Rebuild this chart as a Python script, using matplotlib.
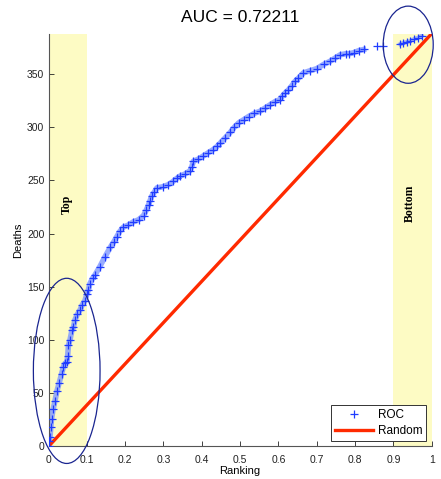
import matplotlib
matplotlib.use("Agg")
import matplotlib.pyplot as plt
from matplotlib.patches import Ellipse

# ROC curve points (ranking fraction, cumulative deaths)
roc_x = [0.000, 0.001, 0.004, 0.006, 0.008, 0.012, 0.017, 0.022, 0.028, 0.034,
         0.039, 0.043, 0.048, 0.050, 0.052, 0.056, 0.061, 0.065, 0.069, 0.075,
         0.082, 0.088, 0.095, 0.100, 0.104, 0.108, 0.115, 0.121, 0.134, 0.147,
         0.161, 0.170, 0.178, 0.186, 0.195, 0.208, 0.221, 0.235, 0.248, 0.255,
         0.261, 0.265, 0.269, 0.276, 0.283, 0.298, 0.313, 0.325, 0.335, 0.343,
         0.356, 0.369, 0.374, 0.378, 0.391, 0.404, 0.417, 0.430, 0.440, 0.448,
         0.461, 0.474, 0.485, 0.496, 0.509, 0.522, 0.537, 0.552, 0.565, 0.578,
         0.591, 0.604, 0.610, 0.617, 0.626, 0.635, 0.643, 0.652, 0.665, 0.682,
         0.700, 0.718, 0.735, 0.748, 0.761, 0.775, 0.785, 0.796, 0.810, 0.822,
         0.857, 0.874, 0.918, 0.925, 0.935, 0.944, 0.955, 0.965, 0.974]
roc_y = [0, 5, 9, 18, 26, 35, 43, 52, 60, 68,
         75, 78, 79, 85, 95, 100, 109, 112, 119, 124,
         128, 133, 137, 143, 147, 153, 158, 161, 169, 178,
         187, 192, 197, 202, 206, 208, 211, 213, 217, 222,
         227, 231, 235, 239, 243, 244, 246, 249, 252, 254,
         256, 259, 263, 268, 270, 273, 276, 279, 282, 285,
         290, 295, 300, 304, 307, 310, 313, 315, 318, 321,
         324, 326, 329, 332, 335, 339, 343, 346, 351, 353,
         355, 359, 362, 365, 368, 369, 369, 370, 372, 373,
         376, 376, 378, 379, 380, 381, 383, 384, 386]

total_deaths = 388
random_x = [0.0, 1.0]
random_y = [0, total_deaths]

x_ticks = [0, 0.1, 0.2, 0.3, 0.4, 0.5, 0.6, 0.7, 0.8, 0.9, 1]
x_tick_labels = ["0", "0.1", "0.2", "0.3", "0.4", "0.5", "0.6", "0.7", "0.8", "0.9", "1"]
y_ticks = [0, 50, 100, 150, 200, 250, 300, 350]

plt.rcParams['font.family'] = ['Liberation Sans', 'DejaVu Sans']

fig = plt.figure(figsize=(4.41, 4.79), dpi=100)
ax = fig.add_axes([0.110, 0.068, 0.869, 0.862])

ax.axvspan(0.0, 0.1, color='#fdfbc4', zorder=0, lw=0)
ax.axvspan(0.9, 1.0, color='#fdfbc4', zorder=0, lw=0)

# dense band of overlapping markers: drawn only where markers are dense
dense_x = [x if not (0.83 < x < 0.91) else float('nan') for x in roc_x]
seg_x = [x for x in roc_x if x <= 0.83]
seg_y = [y for x, y in zip(roc_x, roc_y) if x <= 0.83]
seg2_x = [x for x in roc_x if x >= 0.91]
seg2_y = [y for x, y in zip(roc_x, roc_y) if x >= 0.91]
ax.plot(seg_x, seg_y, '-', color='#7f98ff', lw=4.0, alpha=0.8, zorder=2)
ax.plot(seg2_x, seg2_y, '-', color='#7f98ff', lw=3.0, alpha=0.7, zorder=2)
ax.plot(roc_x, roc_y, '+', color='#1f3cff', ms=6, mew=0.9, ls='none',
        label='ROC', zorder=3)
ax.plot(random_x, random_y, '-', color='#ff2a00', lw=2.4, label='Random', zorder=2)

ax.add_patch(Ellipse((0.0475, 71), 0.174, 174, fill=False, edgecolor='#1a2590',
                     lw=0.9, clip_on=False, zorder=4))
ax.add_patch(Ellipse((0.9386, 377.5), 0.1305, 72.5, fill=False, edgecolor='#1a2590',
                     lw=0.9, clip_on=False, zorder=4))

ax.text(0.0475, 227, 'Top', rotation=90, ha='center', va='center',
        family='Liberation Serif', fontweight='bold', fontsize=8.5)
ax.text(0.944, 228, 'Bottom', rotation=90, ha='center', va='center',
        family='Liberation Serif', fontweight='bold', fontsize=8.5)

ax.set_xlim(0, 1)
ax.set_ylim(0, total_deaths)
ax.set_xticks(x_ticks)
ax.set_xticklabels(x_tick_labels)
ax.set_yticks(y_ticks)
ax.tick_params(direction='in', length=3.5, width=0.6, labelsize=7.5, colors='#222222')
ax.tick_params(axis='x', pad=6)
ax.tick_params(axis='y', pad=3)
for s in ['top', 'right']:
    ax.spines[s].set_visible(False)
for s in ['left', 'bottom']:
    ax.spines[s].set_color('#555555')
    ax.spines[s].set_linewidth(0.8)

ax.set_title('AUC = 0.72211', fontsize=12.5, pad=8)
ax.set_xlabel('Ranking', fontsize=8, labelpad=1)
ax.set_ylabel('Deaths', fontsize=8, labelpad=3)

leg = ax.legend(loc='lower right', fontsize=8.5, fancybox=False, framealpha=1,
                edgecolor='#333333', borderaxespad=0.45, handlelength=3.2,
                handletextpad=0.4, borderpad=0.35, labelspacing=0.35)
leg.get_frame().set_linewidth(0.7)

fig.savefig('out.png', dpi=100)
